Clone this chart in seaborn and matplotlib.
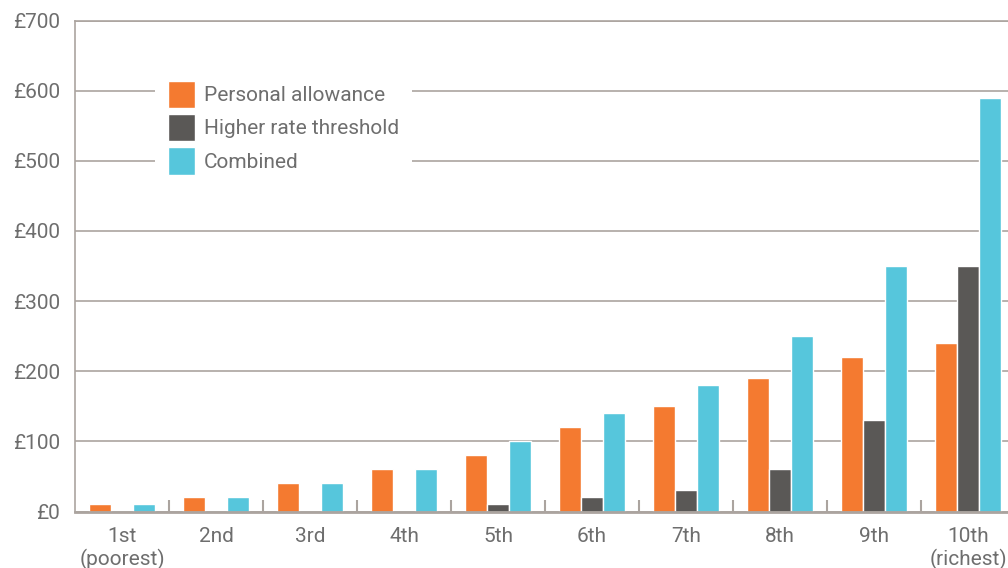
import numpy as np
import pandas as pd
import matplotlib
matplotlib.use("Agg")
import matplotlib.pyplot as plt
from matplotlib.ticker import FixedLocator
import seaborn as sns

# income deciles
deciles = ["1st\n(poorest)", "2nd", "3rd", "4th", "5th",
           "6th", "7th", "8th", "9th", "10th\n(richest)"]
series = ["Personal allowance", "Higher rate threshold", "Combined"]
personal_allowance = [10, 20, 40, 60, 80, 120, 150, 190, 220, 240]
higher_rate = [0, 0, 0, 0, 10, 20, 30, 60, 130, 350]
combined = [10, 20, 40, 60, 100, 140, 180, 250, 350, 590]
yticks = [0, 100, 200, 300, 400, 500, 600, 700]
ytick_labels = ["£0", "£100", "£200", "£300", "£400", "£500", "£600", "£700"]

colors = ["#F47A30", "#5A5856", "#56C6DC"]
grid_col = "#ABA49F"
text_col = "#6E6E6E"
fs = 15

df = pd.DataFrame({
    "decile": deciles * 3,
    "series": [series[0]] * 10 + [series[1]] * 10 + [series[2]] * 10,
    "value": personal_allowance + higher_rate + combined,
})

sns.set_style("white")
plt.rcParams["font.family"] = ["Roboto", "DejaVu Sans"]

fig = plt.figure(figsize=(10.08, 5.68), dpi=100)
ax = fig.add_axes([75 / 1008, 56.5 / 568, 940 / 1008, 491 / 568])

sns.barplot(data=df, x="decile", y="value", hue="series", order=deciles,
            hue_order=series, palette=colors, width=0.702, errorbar=None,
            saturation=1, ax=ax)

ax.set_xlim(-0.5, 9.5)
ax.set_ylim(0, 700)
ax.set_yticks(yticks)
ax.set_yticklabels(ytick_labels)
ax.set_xlabel("")
ax.set_ylabel("")

ax.yaxis.grid(True, color=grid_col, linewidth=1.2)
ax.set_axisbelow(True)

for s in ["left", "bottom", "top"]:
    ax.spines[s].set_visible(True)
    ax.spines[s].set_color(grid_col)
ax.spines["right"].set_visible(False)
ax.spines["left"].set_linewidth(1.2)
ax.spines["top"].set_linewidth(1.2)
ax.spines["bottom"].set_linewidth(2)

ax.tick_params(axis="y", length=0, pad=11, labelsize=fs, labelcolor=text_col)
ax.tick_params(axis="x", which="major", length=0, pad=11, labelsize=fs,
               labelcolor=text_col)
ax.xaxis.set_minor_locator(FixedLocator(np.arange(0.5, 9.5, 1)))
ax.tick_params(axis="x", which="minor", direction="in", length=9,
               width=1.5, color=grid_col, bottom=True)

handles, labels = ax.get_legend_handles_labels()
ax.legend(handles, labels, loc="upper left",
          bbox_to_anchor=(155 / 1008, 1 - 68 / 568),
          bbox_transform=fig.transFigure, borderaxespad=0,
          frameon=True, facecolor="white", edgecolor="none", framealpha=1,
          fancybox=False, fontsize=fs, labelcolor=text_col,
          handlelength=1.3, handleheight=1.65, handletextpad=0.45,
          labelspacing=0.28, borderpad=0.6)

fig.savefig("out.png", dpi=100)
